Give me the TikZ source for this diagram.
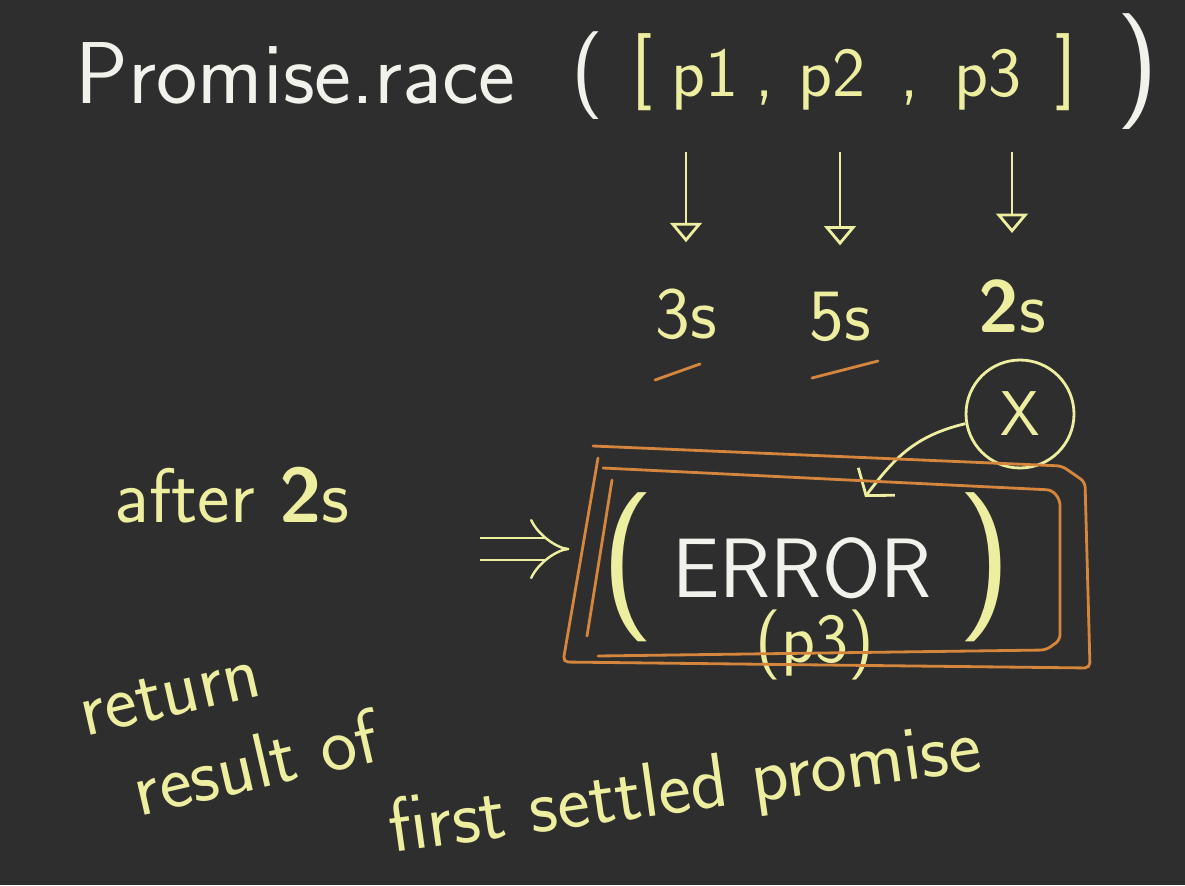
\documentclass[tikz,border=0pt]{standalone}
\usepackage{fontspec}
\renewcommand{\familydefault}{\sfdefault}
\usetikzlibrary{arrows.meta}
\definecolor{board}{RGB}{46,46,46}
\definecolor{chalk}{RGB}{242,242,236}
\definecolor{chalkyel}{RGB}{238,238,160}
\definecolor{marker}{RGB}{214,134,60}
\tikzset{
  title/.style={text=chalk, inner sep=2pt, font=\fontsize{50}{54}\selectfont},
  arg/.style={text=chalkyel, inner sep=2pt, font=\fontsize{40}{44}\selectfont},
  bracket/.style={text=chalkyel, inner sep=2pt, font=\fontsize{44}{48}\selectfont},
  delay/.style={text=chalkyel, font=\fontsize{42}{46}\selectfont},
  note/.style={text=chalkyel, inner sep=1pt, font=\fontsize{44}{48}\selectfont},
  paren/.style={text=chalkyel, font=\fontsize{85}{90}\selectfont},
  down/.style={chalkyel, line width=1.6pt, -{Triangle[open,width=18pt,length=11pt]},
    shorten <=0.75cm, shorten >=0.8cm},
  frame/.style={marker, line width=1.6pt, rounded corners=3pt, line cap=round},
  impl/.style={chalkyel, line width=1.4pt, double=board, double distance=11pt,
    -{Implies}, shorten >=0.5cm},
}
\begin{document}
\begin{tikzpicture}[x=0.02cm, y=-0.02cm]
  \fill[board] (0,0) rectangle (1185,885);
  \useasboundingbox (0,0) rectangle (1185,885);
  % the call
  \node[title, anchor=base west] (race) at (72,104) {Promise.race};
  \node[title, anchor=base] (open) at (588,98) {(};
  \node[bracket, anchor=base] (lbrack) at (642,92) {[};
  \node[arg, anchor=base] (p1) at (705,97) {p1};
  \node[arg, anchor=base] (c1) at (765,97) {,};
  \node[arg, anchor=base] (p2) at (832,97) {p2};
  \node[arg, anchor=base] (c2) at (910,97) {,};
  \node[arg, anchor=base] (p3) at (988,97) {p3};
  \node[bracket, anchor=base] (rbrack) at (1066,92) {]};
  \node[title, font=\fontsize{66}{70}\selectfont, anchor=base] (close) at (1138,101) {)};
  % delays
  \node[delay, anchor=base] (t3) at (686,338) {3s};
  \node[delay, anchor=base] (t5) at (840,340) {5s};
  \node[delay, anchor=base] (t2) at (1012,332) {\textbf{2}s};
  \draw[down] (p1.south -| t3.north) -- (t3.north);
  \draw[down] (p2.south -| t5.north) -- (t5.north);
  \draw[down] (p3.south -| t2.north) -- (t2.north);
  \draw[marker, line width=1.6pt, line cap=round] (655,380) -- (700,364);
  \draw[marker, line width=1.6pt, line cap=round] (812,378) -- (878,361);
  % rejected one
  \node[circle, draw=chalkyel, line width=1.6pt, minimum size=2.16cm, text=chalkyel,
    font=\fontsize{36}{40}\selectfont] (fail) at (1020,414) {X};
  \coordinate (hit) at (865,497);
  \draw[chalkyel, line width=1.6pt, -{Straight Barb[length=10pt,width=26pt]}]
    (fail.190) .. controls +(-50,12) and +(30,-40) .. (hit);
  % result
  \node[text=chalk, font=\fontsize{48}{52}\selectfont] (err) at (802,568) {ERROR};
  \node[paren] (lpar) at (628,567) {(};
  \node[paren] (rpar) at (985,567) {)};
  \node[text=chalkyel, font=\fontsize{40}{44}\selectfont] (src) at (815,645) {(p3)};
  \draw[frame] (593,446) -- (1062,466) -- (1085,482) -- (1090,668) -- (563,662) -- (598,458);
  \draw[frame] (603,468) -- (1052,490) -- (1060,500) -- (1060,640) -- (1046,650) -- (598,656);
  \draw[frame] (612,480) -- (587,636);
  \coordinate (imp) at (480,549);
  \draw[impl] (imp) -- (imp -| lpar.west);
  % notes
  \node[note] (after) at (232,495) {after \textbf{2}s};
  \node[note, rotate=13] (ret) at (170,695) {return};
  \node[note, rotate=13] (res) at (255,762) {result of};
  \node[note, rotate=8] (first) at (685,792) {first settled promise};
\end{tikzpicture}
\end{document}
